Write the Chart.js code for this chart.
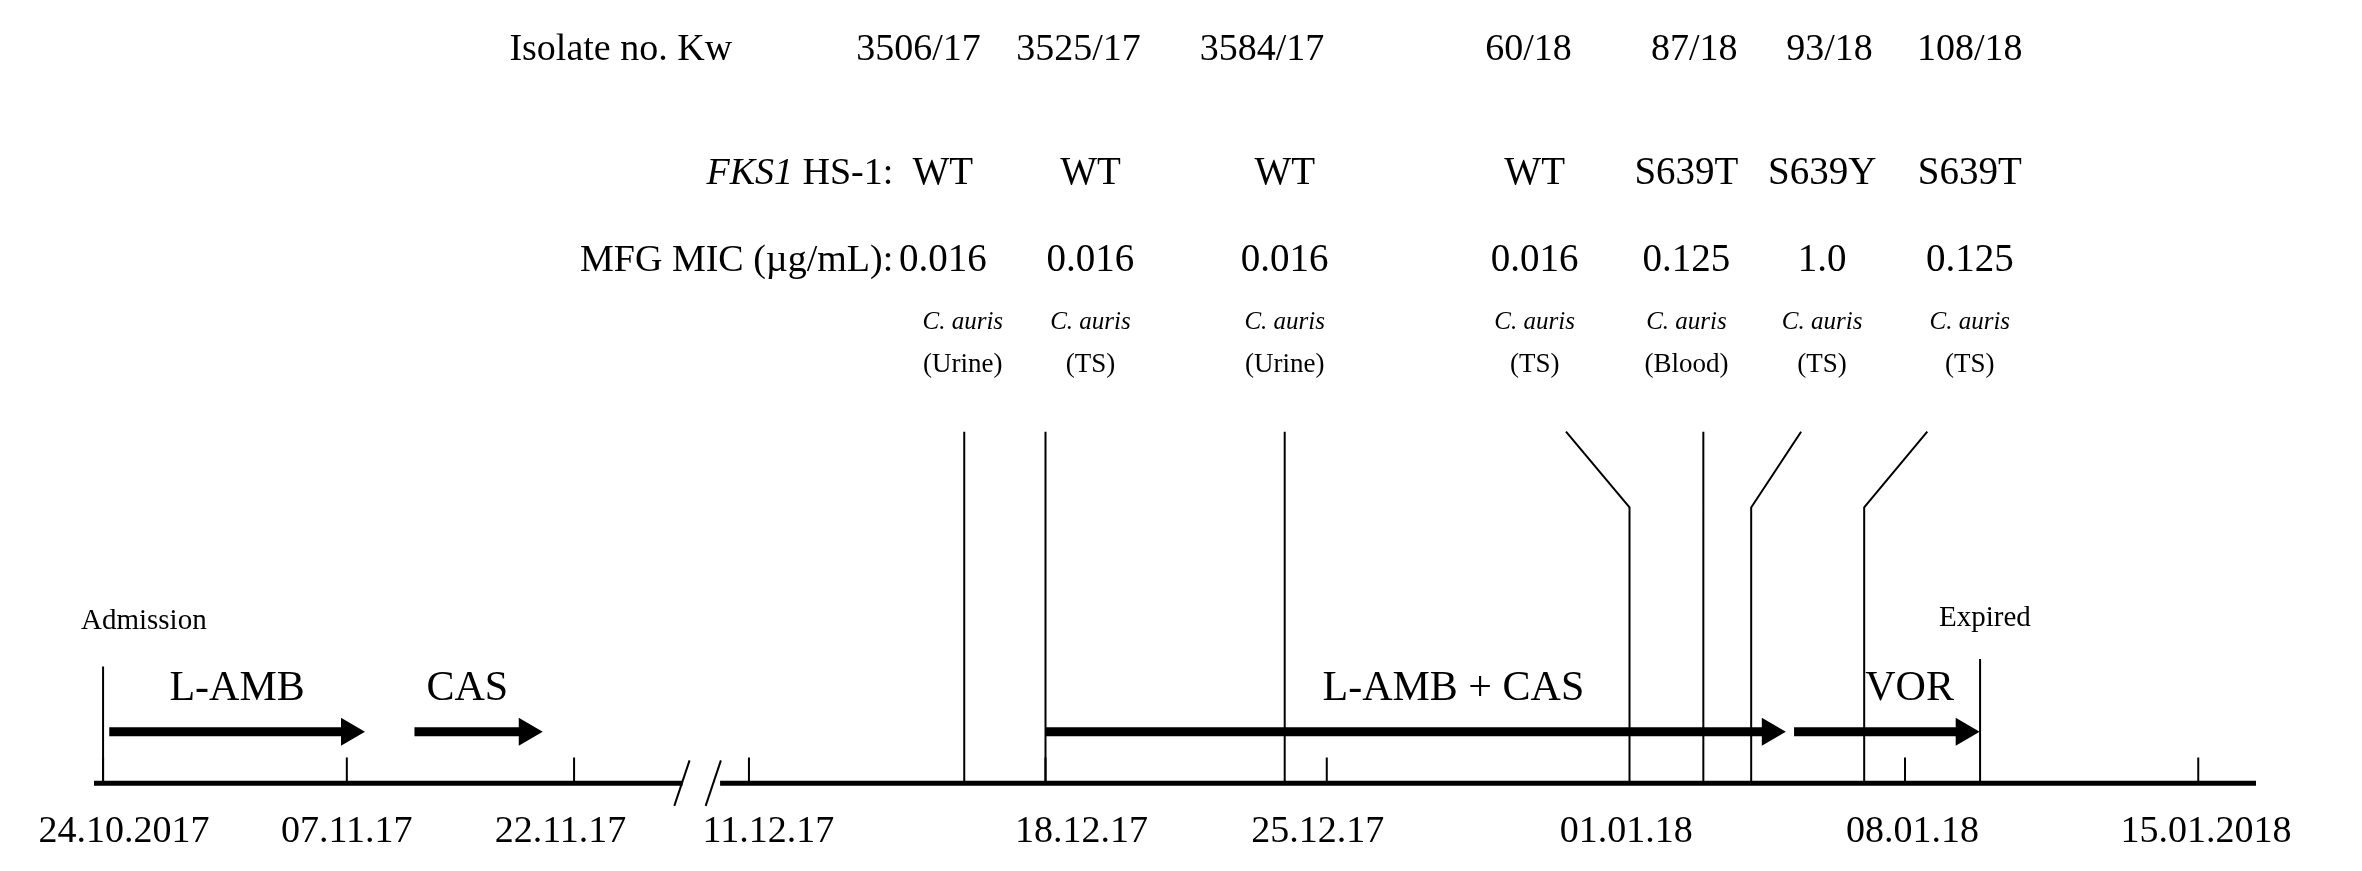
<!DOCTYPE html>
<html>
<head>
<meta charset="utf-8">
<script src="https://cdn.jsdelivr.net/npm/chart.js@4.4.0/dist/chart.umd.min.js"></script>
<style>
  html, body { margin: 0; padding: 0; background: #fff; }
  #wrap { width: 2362px; height: 871px; }
</style>
</head>
<body>
<div id="wrap"><canvas id="timeline"></canvas></div>
<script>
// Posições no eixo do tempo (unidades = dias na parte direita, parte esquerda comprimida)
const tickPos = [0, 5.91, 11.42, 15.66, 22.85, 29.67, 43.69, 50.8];
const tickLabels = ['24.10.2017', '07.11.17', '22.11.17', '11.12.17', '18.12.17', '25.12.17', '01.01.18', '08.01.18', '15.01.2018'];
const tickLabelPos = [0.51, 5.91, 11.09, 16.13, 23.72, 29.45, 36.93, 43.87, 50.99];

const isolates = ['3506/17', '3525/17', '3584/17', '60/18', '87/18', '93/18', '108/18'];
const fks1 = ['WT', 'WT', 'WT', 'WT', 'S639T', 'S639Y', 'S639T'];
const micValues = ['0.016', '0.016', '0.016', '0.016', '0.125', '1.0', '0.125'];
const specimens = ['(Urine)', '(TS)', '(Urine)', '(TS)', '(Blood)', '(TS)', '(TS)'];
const isolatePos = [20.88, 22.85, 28.65, 37.01, 38.80, 39.96, 42.70];   // data da amostra
const labelPos = [20.36, 23.94, 28.65, 34.71, 38.39, 41.68, 45.26];     // coluna do texto
const headerPos = [19.77, 23.65, 28.1, 34.56, 38.58, 41.86, 45.26];
const leaderTop = [20.88, 22.85, 28.65, 35.47, 38.80, 41.17, 44.23];

const therapies = ['L-AMB', 'CAS', 'L-AMB + CAS', 'VOR'];
const therapyStart = [0.15, 7.55, 22.85, 41.0];
const therapyEnd = [6.35, 10.66, 40.8, 45.5];
const therapyLabelPos = [3.25, 8.83, 32.74, 43.8];

const admissionPos = 0;
const expiredPos = 45.51;
const breakStart = 14.05;
const breakEnd = 14.96;

const Y_AXIS = 517;

const serif = '"Liberation Serif", "DejaVu Serif", serif';

function segmentos(lista) {
  const pts = [];
  lista.forEach(seg => { seg.forEach(p => pts.push(p)); pts.push({ x: null, y: null }); });
  return pts;
}

const axisData = segmentos([
  [{ x: -0.22, y: Y_AXIS }, { x: breakStart, y: Y_AXIS }],
  [{ x: breakEnd, y: Y_AXIS }, { x: 52.2, y: Y_AXIS }]
]);
const tickData = segmentos(tickPos.map(p => [{ x: p, y: 500 }, { x: p, y: Y_AXIS }]));
const isolateData = segmentos(isolatePos.map((p, i) => (
  leaderTop[i] === p
    ? [{ x: p, y: 285 }, { x: p, y: Y_AXIS }]
    : [{ x: leaderTop[i], y: 285 }, { x: p, y: 335 }, { x: p, y: Y_AXIS }]
)));
const eventData = segmentos([
  [{ x: admissionPos, y: 440 }, { x: admissionPos, y: Y_AXIS }],
  [{ x: expiredPos, y: 435 }, { x: expiredPos, y: Y_AXIS }]
]);
const arrowData = segmentos(therapies.map((t, i) => [{ x: therapyStart[i], y: 483 }, { x: therapyEnd[i] - 0.45, y: 483 }]));

const linha = (data, w) => ({
  data: data, borderColor: '#000', borderWidth: w, pointRadius: 0,
  spanGaps: false, showLine: true, fill: false, tension: 0
});

const anotacoes = {
  id: 'anotacoes',
  afterDatasetsDraw(chart) {
    const ctx = chart.ctx;
    const xs = chart.scales.x, ys = chart.scales.y;
    const X = v => xs.getPixelForValue(v);
    const Y = v => ys.getPixelForValue(v);
    ctx.save();
    ctx.fillStyle = '#000';
    ctx.strokeStyle = '#000';
    ctx.textBaseline = 'middle';

    // pontas das setas
    therapies.forEach((t, i) => {
      const xe = X(therapyEnd[i]), y = Y(483);
      ctx.beginPath();
      ctx.moveTo(xe, y);
      ctx.lineTo(xe - 24, y - 14);
      ctx.lineTo(xe - 24, y + 14);
      ctx.closePath();
      ctx.fill();
    });

    // quebra do eixo
    ctx.lineWidth = 2;
    [[breakStart - 0.2, breakStart + 0.17], [breakEnd - 0.35, breakEnd + 0.02]].forEach(([a, b]) => {
      ctx.beginPath();
      ctx.moveTo(X(a), Y(532));
      ctx.lineTo(X(b), Y(502));
      ctx.stroke();
    });

    const txt = (s, x, y, size, align, italic) => {
      ctx.font = (italic ? 'italic ' : '') + size + 'px ' + serif;
      ctx.textAlign = align || 'center';
      ctx.fillText(s, x, y);
    };

    // cabeçalho
    txt('Isolate no. Kw', 410 * 1.514, Y(33), 38);
    isolates.forEach((s, i) => txt(s, X(headerPos[i]), Y(33), 38));

    ctx.font = 'italic 38px ' + serif;
    const w1 = ctx.measureText('FKS1').width;
    ctx.font = '38px ' + serif;
    const w2 = ctx.measureText(' HS-1:').width;
    const right = 590 * 1.514;
    txt('FKS1', right - w2 - w1, Y(115), 38, 'left', true);
    txt(' HS-1:', right - w2, Y(115), 38, 'left');
    fks1.forEach((s, i) => txt(s, X(labelPos[i]), Y(115), 39));

    txt('MFG MIC (\u00b5g/mL):', 590 * 1.514, Y(172), 38, 'right');
    micValues.forEach((s, i) => txt(s, X(labelPos[i]), Y(172), 39));

    specimens.forEach((s, i) => {
      const x = X(labelPos[i]) + (i === 0 ? 20 : 0);
      txt('C. auris', x, Y(213), 25, 'center', true);
      txt(s, x, Y(241), 27);
    });

    // eventos
    txt('Admission', 95 * 1.514, Y(410), 29);
    txt('Expired', 1311 * 1.514, Y(408), 29);

    // terapias
    therapies.forEach((t, i) => txt(t, X(therapyLabelPos[i]), Y(455), 42));

    // rótulos do eixo
    tickLabels.forEach((s, i) => txt(s, X(tickLabelPos[i]), Y(549), 38));
    ctx.restore();
  }
};

new Chart(document.getElementById('timeline').getContext('2d'), {
  type: 'line',
  data: {
    datasets: [
      linha(axisData, 5),
      linha(tickData, 2),
      linha(isolateData, 2),
      linha(eventData, 2),
      linha(arrowData, 9)
    ]
  },
  options: {
    responsive: true,
    maintainAspectRatio: false,
    animation: false,
    layout: { padding: { left: 94, right: 106, top: 0, bottom: 0 } },
    plugins: { legend: { display: false }, tooltip: { enabled: false } },
    scales: {
      x: { type: 'linear', min: -0.22, max: 52.2, display: false },
      y: { type: 'linear', min: 0, max: 575, reverse: true, display: false }
    }
  },
  plugins: [anotacoes]
});
</script>
</body>
</html>
